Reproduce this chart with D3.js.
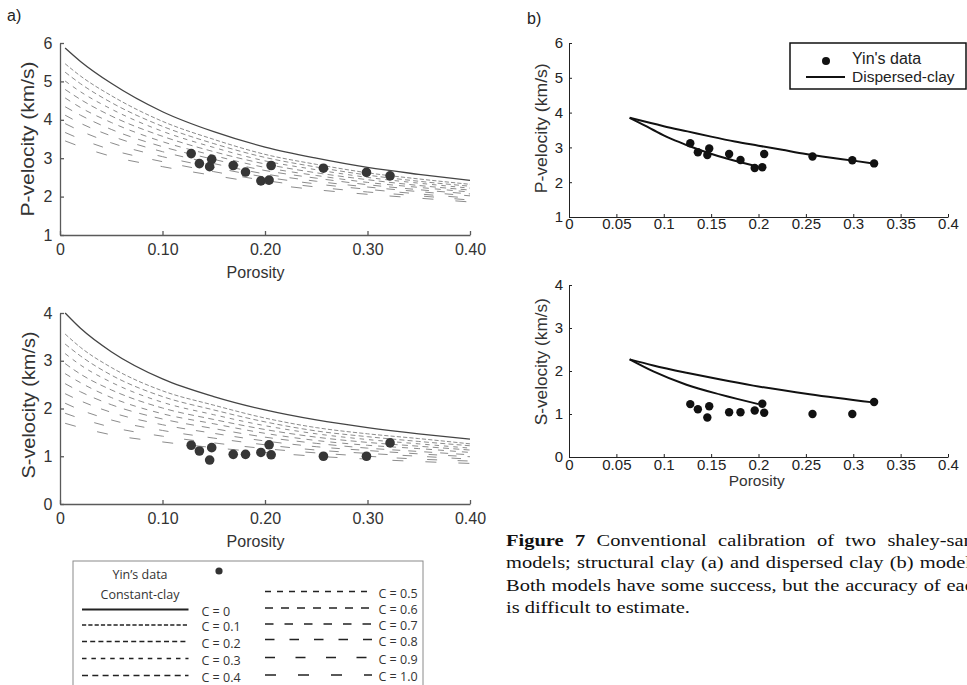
<!DOCTYPE html>
<html><head><meta charset="utf-8">
<script src="https://cdn.jsdelivr.net/npm/d3@7/dist/d3.min.js"></script>
<style>html,body{margin:0;padding:0;background:#fff;} svg{display:block;}</style>
</head><body>
<svg id="fig" width="967" height="685"></svg>
<script>
// ---------------- data ----------------
const clayContent = [0, 0.1, 0.2, 0.3, 0.4, 0.5, 0.6, 0.7, 0.8, 0.9, 1.0];
const clayLabels = ["C = 0","C = 0.1","C = 0.2","C = 0.3","C = 0.4","C = 0.5","C = 0.6","C = 0.7","C = 0.8","C = 0.9","C = 1.0"];
const porosityGrid = [0.005, 0.02, 0.05, 0.10, 0.15, 0.20, 0.25, 0.30, 0.35, 0.40];
// constant-clay model, P-velocity (km/s), one row per clay content
const vpConstantClay = [
  [5.87, 5.52, 4.95, 4.21, 3.69, 3.29, 3.00, 2.76, 2.58, 2.42],
  [5.46, 5.14, 4.63, 3.96, 3.49, 3.10, 2.84, 2.62, 2.46, 2.32],
  [5.24, 4.94, 4.45, 3.83, 3.38, 3.02, 2.77, 2.56, 2.40, 2.27],
  [5.01, 4.73, 4.28, 3.70, 3.28, 2.93, 2.70, 2.50, 2.35, 2.22],
  [4.79, 4.53, 4.10, 3.57, 3.17, 2.85, 2.62, 2.44, 2.29, 2.17],
  [4.57, 4.32, 3.93, 3.43, 3.07, 2.76, 2.55, 2.37, 2.24, 2.12],
  [4.34, 4.12, 3.75, 3.30, 2.97, 2.68, 2.48, 2.31, 2.18, 2.07],
  [4.12, 3.91, 3.58, 3.17, 2.86, 2.59, 2.40, 2.25, 2.13, 2.02],
  [3.90, 3.71, 3.40, 3.04, 2.76, 2.51, 2.33, 2.19, 2.07, 1.96],
  [3.67, 3.50, 3.22, 2.91, 2.65, 2.42, 2.25, 2.12, 2.02, 1.91],
  [3.45, 3.30, 3.05, 2.78, 2.55, 2.34, 2.18, 2.06, 1.96, 1.86]
];
// constant-clay model, S-velocity (km/s)
const vsConstantClay = [
  [4.00, 3.68, 3.19, 2.62, 2.25, 1.97, 1.76, 1.60, 1.47, 1.36],
  [3.56, 3.28, 2.86, 2.37, 2.07, 1.80, 1.60, 1.47, 1.37, 1.26],
  [3.35, 3.10, 2.70, 2.25, 1.97, 1.72, 1.53, 1.41, 1.31, 1.22],
  [3.15, 2.91, 2.55, 2.13, 1.87, 1.64, 1.47, 1.35, 1.26, 1.17],
  [2.94, 2.72, 2.39, 2.01, 1.77, 1.56, 1.40, 1.29, 1.21, 1.13],
  [2.73, 2.54, 2.23, 1.89, 1.68, 1.48, 1.33, 1.23, 1.16, 1.08],
  [2.52, 2.35, 2.08, 1.78, 1.58, 1.40, 1.27, 1.17, 1.10, 1.03],
  [2.31, 2.16, 1.92, 1.66, 1.48, 1.32, 1.20, 1.12, 1.05, 0.99],
  [2.11, 1.97, 1.76, 1.54, 1.38, 1.24, 1.13, 1.06, 1.00, 0.94],
  [1.90, 1.79, 1.61, 1.42, 1.28, 1.16, 1.07, 1.00, 0.94, 0.90],
  [1.69, 1.60, 1.45, 1.30, 1.18, 1.08, 1.00, 0.94, 0.89, 0.85]
];
// Yin's data
const yinPorosity = [0.128, 0.136, 0.146, 0.148, 0.169, 0.181, 0.196, 0.204, 0.206, 0.257, 0.299, 0.322];
const yinVp = [3.12, 2.86, 2.78, 2.97, 2.81, 2.64, 2.41, 2.43, 2.81, 2.74, 2.63, 2.54];
const yinVs = [1.23, 1.11, 0.92, 1.18, 1.04, 1.04, 1.08, 1.24, 1.03, 1.00, 1.00, 1.28];
// dispersed-clay model
const dispUpperPhiP = [0.064, 0.10, 0.125, 0.15, 0.175, 0.20, 0.225, 0.25, 0.275, 0.30, 0.321];
const dispUpperVp   = [3.85, 3.61, 3.46, 3.31, 3.17, 3.05, 2.93, 2.81, 2.71, 2.62, 2.54];
const dispLowerPhiP = [0.064, 0.075, 0.089, 0.105, 0.124, 0.145, 0.173, 0.20];
const dispLowerVp   = [3.85, 3.70, 3.50, 3.28, 3.07, 2.86, 2.63, 2.44];
const dispUpperPhiS = [0.064, 0.089, 0.124, 0.16, 0.1945, 0.254, 0.321];
const dispUpperVs   = [2.27, 2.13, 1.96, 1.80, 1.66, 1.46, 1.27];
const dispLowerPhiS = [0.064, 0.089, 0.124, 0.16, 0.20];
const dispLowerVs   = [2.27, 1.99, 1.68, 1.45, 1.23];
// tick labels
const xTicksA = [0, 0.1, 0.2, 0.3, 0.4];
const xTickLabelsA = ["0", "0.10", "0.20", "0.30", "0.40"];
const xTicksB = [0, 0.05, 0.1, 0.15, 0.2, 0.25, 0.3, 0.35, 0.4];
const xTickLabelsB = ["0", "0.05", "0.1", "0.15", "0.2", "0.25", "0.3", "0.35", "0.4"];
const yTicksP = [1, 2, 3, 4, 5, 6];
const yTickLabelsP = ["1", "2", "3", "4", "5", "6"];
const yTicksS = [0, 1, 2, 3, 4];
const yTickLabelsS = ["0", "1", "2", "3", "4"];
const captionLines = [
  "Figure 7 Conventional calibration of two shaley-sand",
  "models; structural clay (a) and dispersed clay (b) models.",
  "Both models have some success, but the accuracy of each",
  "is difficult to estimate."
];

// ---------------- styles ----------------
const dashStyles = ["", "4.2,2.1", "5,3.2", "4.5,4.9", "6,4.3", "6,6", "8,8", "8.5,11", "9.5,15", "10,20.5", "11,22"];
const SANS = "'Liberation Sans', Arial, Helvetica, sans-serif";
const LEG = "'Open Sans', 'Noto Sans', sans-serif";
const SERIF = "'Liberation Serif', 'Times New Roman', serif";

const svg = d3.select("#fig");

// ---------------- scales ----------------
const xA = d3.scaleLinear().domain([0, 0.4]).range([60, 470]);
const yAP = d3.scaleLinear().domain([1, 6]).range([235, 43]);
const yAS = d3.scaleLinear().domain([0, 4]).range([504, 313]);
const xB = d3.scaleLinear().domain([0, 0.4]).range([569, 948]);
const yBP = d3.scaleLinear().domain([1, 6]).range([217, 43]);
const yBS = d3.scaleLinear().domain([0, 4]).range([457, 285]);

function drawAxes(x, y, xt, xl, yt, yl, o) {
  const gx = svg.append("g").attr("transform", `translate(0,${y.range()[0]})`)
    .call(d3.axisBottom(x).tickValues(xt).tickFormat((d, i) => xl[i])
      .tickSizeInner(-o.tick).tickSizeOuter(0).tickPadding(o.xPad));
  const gy = svg.append("g").attr("transform", `translate(${x.range()[0]},0)`)
    .call(d3.axisLeft(y).tickValues(yt).tickFormat((d, i) => yl[i])
      .tickSizeInner(-o.tick).tickSizeOuter(0).tickPadding(o.yPad));
  [gx, gy].forEach(g => {
    g.select("path.domain").attr("stroke", o.color).attr("stroke-width", o.width);
    g.selectAll(".tick line").attr("stroke", o.color).attr("stroke-width", o.width);
    g.selectAll(".tick text").attr("fill", o.text)
      .style("font-family", SANS).style("font-size", o.font + "px");
  });
}

function axisTitle(text, x, y, size, rotate, len) {
  const t = svg.append("text")
    .attr("transform", `translate(${x},${y})` + (rotate ? " rotate(-90)" : ""))
    .attr("text-anchor", "middle").attr("fill", "#333")
    .style("font-family", SANS).style("font-size", size + "px").text(text);
  if (len) t.attr("textLength", len).attr("lengthAdjust", "spacingAndGlyphs");
}

// ---------------- panel a ----------------
const optA = {tick: 4, xPad: 8.6, yPad: 7.7, color: "#5a5a5a", width: 1.3, text: "#333", font: 16};
drawAxes(xA, yAP, xTicksA, xTickLabelsA, yTicksP, yTickLabelsP, optA);
drawAxes(xA, yAS, xTicksA, xTickLabelsA, yTicksS, yTickLabelsS, optA);

function drawFamily(curves, yScale) {
  const line = d3.line().x((d, i) => xA(porosityGrid[i])).y(d => yScale(d)).curve(d3.curveMonotoneX);
  const g = svg.append("g").attr("fill", "none");
  curves.forEach((vals, k) => {
    if (k === 0) return;
    g.append("path").attr("d", line(vals)).attr("stroke", "#8c8c8c")
      .attr("stroke-width", 1).attr("stroke-dasharray", dashStyles[k]);
  });
  g.append("path").attr("d", line(curves[0])).attr("stroke", "#444").attr("stroke-width", 1.3);
}
drawFamily(vpConstantClay, yAP);
drawFamily(vsConstantClay, yAS);

svg.append("g").selectAll("circle").data(yinPorosity).join("circle")
  .attr("cx", d => xA(d)).attr("cy", (d, i) => yAP(yinVp[i])).attr("r", 4.8).attr("fill", "#363636");
svg.append("g").selectAll("circle").data(yinPorosity).join("circle")
  .attr("cx", d => xA(d)).attr("cy", (d, i) => yAS(yinVs[i])).attr("r", 4.8).attr("fill", "#363636");

axisTitle("Porosity", 255.5, 278, 16);
axisTitle("Porosity", 255.5, 546.5, 16);
axisTitle("P-velocity (km/s)", 33.5, 139, 17.5, true, 155);
axisTitle("S-velocity (km/s)", 34.5, 405, 17.5, true, 147);
svg.append("text").attr("x", 7).attr("y", 21).attr("fill", "#222")
  .style("font-family", SANS).style("font-size", "16px").text("a)");

// legend of panel a
const legA = svg.append("g");
legA.append("rect").attr("x", 73).attr("y", 561).attr("width", 350).attr("height", 140)
  .attr("fill", "none").attr("stroke", "#8a8a8a").attr("stroke-width", 1);
legA.append("text").attr("x", 140).attr("y", 578.5).attr("text-anchor", "middle").attr("fill", "#333")
  .style("font-family", LEG).style("font-size", "12.5px").text("Yin\u2019s data");
legA.append("circle").attr("cx", 219).attr("cy", 571).attr("r", 3.6).attr("fill", "#333");
legA.append("text").attr("x", 140).attr("y", 598.5).attr("text-anchor", "middle").attr("fill", "#333")
  .style("font-family", LEG).style("font-size", "12.5px").text("Constant-clay");
const legRowsLeft = [611, 626.5, 643, 660, 677];
const legRowsRight = [593, 609.5, 625.5, 641, 659, 676.5];
clayContent.forEach((c, k) => {
  const left = k < 5;
  const yRow = left ? legRowsLeft[k] : legRowsRight[k - 5];
  const x0 = left ? 82 : 265, x1 = left ? 188.5 : 372, tx = left ? 201.5 : 378.5;
  legA.append("line").attr("x1", x0).attr("x2", x1).attr("y1", yRow - 1.5).attr("y2", yRow - 1.5)
    .attr("stroke", "#222").attr("stroke-width", k === 0 ? 1.8 : 1.7)
    .attr("stroke-dasharray", dashStyles[k]);
  legA.append("text").attr("x", tx).attr("y", yRow + 4.5).attr("fill", "#333")
    .style("font-family", LEG).style("font-size", "12.5px").text(clayLabels[k]);
});

// ---------------- panel b ----------------
const optB = {tick: 3, xPad: 1, yPad: 6, color: "#222", width: 1, text: "#222", font: 15};
drawAxes(xB, yBP, xTicksB, xTickLabelsB, yTicksP, yTickLabelsP, optB);
drawAxes(xB, yBS, xTicksB, xTickLabelsB, yTicksS, yTickLabelsS, {...optB, xPad: 2.4});

function dispCurve(phis, vals, yScale) {
  const line = d3.line().x((d, i) => xB(phis[i])).y(d => yScale(d)).curve(d3.curveMonotoneX);
  svg.append("path").attr("d", line(vals)).attr("fill", "none").attr("stroke", "#111").attr("stroke-width", 2);
}
dispCurve(dispUpperPhiP, dispUpperVp, yBP);
dispCurve(dispLowerPhiP, dispLowerVp, yBP);
dispCurve(dispUpperPhiS, dispUpperVs, yBS);
dispCurve(dispLowerPhiS, dispLowerVs, yBS);

svg.append("g").selectAll("circle").data(yinPorosity).join("circle")
  .attr("cx", d => xB(d)).attr("cy", (d, i) => yBP(yinVp[i])).attr("r", 4.2).attr("fill", "#111");
svg.append("g").selectAll("circle").data(yinPorosity).join("circle")
  .attr("cx", d => xB(d)).attr("cy", (d, i) => yBS(yinVs[i])).attr("r", 4.2).attr("fill", "#111");

axisTitle("Porosity", 756.7, 485.5, 15.5);
axisTitle("P-velocity (km/s)", 546.5, 128.3, 16.5, true, 130);
axisTitle("S-velocity (km/s)", 546.5, 361.7, 16.5, true, 127);
svg.append("text").attr("x", 527).attr("y", 24).attr("fill", "#222")
  .style("font-family", SANS).style("font-size", "16px").text("b)");

// legend of panel b
const legB = svg.append("g");
legB.append("rect").attr("x", 790).attr("y", 43).attr("width", 176).attr("height", 46)
  .attr("fill", "#fff").attr("stroke", "#111").attr("stroke-width", 1.5);
legB.append("circle").attr("cx", 826).attr("cy", 61).attr("r", 4).attr("fill", "#111");
legB.append("line").attr("x1", 806).attr("x2", 845).attr("y1", 77).attr("y2", 77)
  .attr("stroke", "#111").attr("stroke-width", 2);
legB.append("text").attr("x", 852).attr("y", 63.5).attr("fill", "#222")
  .style("font-family", SANS).style("font-size", "16px").text("Yin's data");
legB.append("text").attr("x", 852).attr("y", 81.5).attr("fill", "#222")
  .style("font-family", SANS).style("font-size", "15.5px").text("Dispersed-clay");

// ---------------- caption ----------------
const capScale = 1.17, capWidth = 478;
const capG = svg.append("g").attr("transform", `translate(506,0) scale(${capScale},1)`)
  .attr("fill", "#111").style("font-family", SERIF).style("font-size", "17.5px");
const capBaselines = [546, 568.5, 591, 613.5];
captionLines.forEach((line, i) => {
  const words = line.split(" ");
  const nodes = words.map((w, j) => capG.append("text").attr("y", capBaselines[i])
    .attr("font-weight", (i === 0 && j < 2) ? "bold" : "normal").text(w));
  const widths = nodes.map(n => n.node().getComputedTextLength());
  const justify = i < captionLines.length - 1;
  const gap = justify ? (capWidth / capScale - d3.sum(widths)) / (words.length - 1) : 4.4;
  let x = 0;
  nodes.forEach((n, j) => { n.attr("x", x); x += widths[j] + gap; });
});
</script>
</body></html>
